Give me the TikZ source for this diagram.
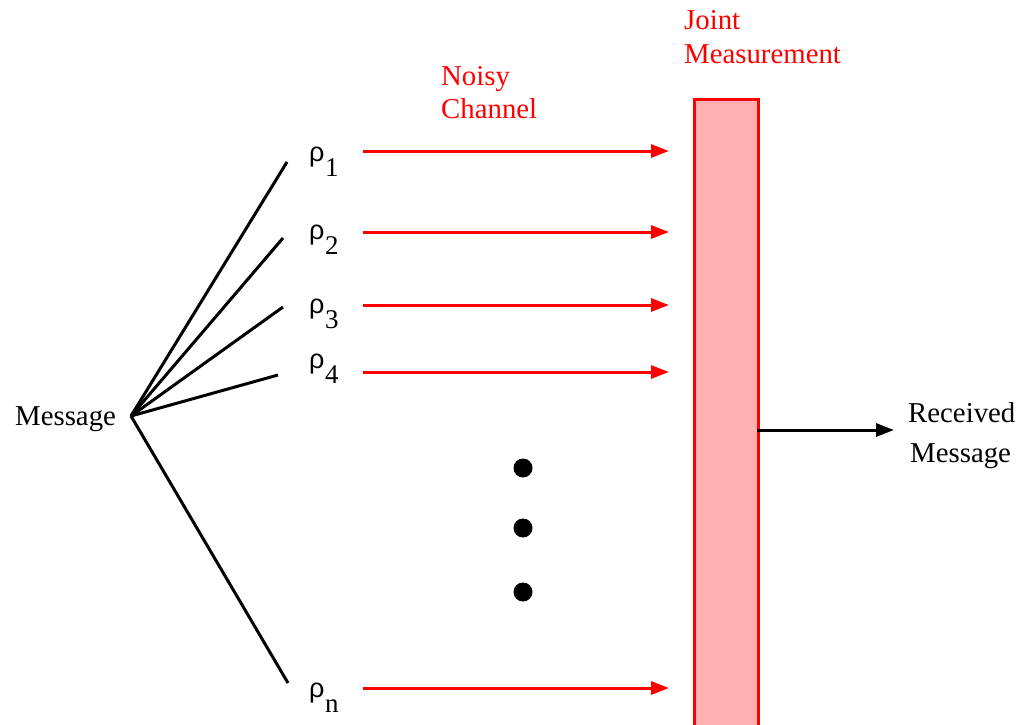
\documentclass[tikz,border=0pt]{standalone}
\usepackage{fontspec}
\setmainfont{Liberation Serif}
\newfontfamily\rhofont{Liberation Sans}
\usetikzlibrary{arrows.meta}
\definecolor{boxfill}{RGB}{255,176,176}
\begin{document}
\begin{tikzpicture}[x=1pt,y=-1pt,
  lbl/.style={inner sep=0pt,anchor=base west,font=\fontsize{28.8}{28.8}\selectfont},
  redlbl/.style={lbl,text=red},
  fan/.style={line width=3pt,black},
  chan/.style={line width=3pt,red,-{Triangle[length=18pt,width=13pt]}},
  outarr/.style={line width=3pt,black,-{Triangle[length=18pt,width=13pt]}},
  dot/.style={circle,fill=black,inner sep=0pt,minimum size=19pt},
  rholbl/.style={inner sep=0pt,anchor=base west}]
\clip (0,0) rectangle (1017,724);
\fill[white] (0,0) rectangle (1017,724);
\newcommand{\rholabel}[1]{{\rhofont\fontsize{27}{27}\selectfont ρ}\hspace{0.5pt}\raisebox{-15pt}{\fontsize{27}{27}\selectfont #1}}
% labels
\node[lbl] (msg) at (15,425) {Message};
\node[redlbl] (noisy) at (441,85) {Noisy};
\node[redlbl] (channel) at (441,118) {Channel};
\node[redlbl] (joint) at (684,29) {Joint};
\node[redlbl] (meas) at (684,63) {Measurement};
\node[lbl] (recv) at (908,422) {Received};
\node[lbl] (recvmsg) at (910,462) {Message};
% rho labels
\node[rholbl] (r1) at (309,161) {\rholabel{1}};
\node[rholbl] (r2) at (309,239) {\rholabel{2}};
\node[rholbl] (r3) at (309,313) {\rholabel{3}};
\node[rholbl] (r4) at (309,368) {\rholabel{4}};
\node[rholbl] (rn) at (309,697) {\rholabel{n}};
% fan
\coordinate (hub) at (131,416);
\coordinate (f1) at (287,162);
\coordinate (f2) at (283,238);
\coordinate (f3) at (283,307);
\coordinate (f4) at (278,375);
\coordinate (fn) at (288,683);
\foreach \e in {f1,f2,f3,f4,fn} \draw[fan] (hub) -- (\e);
% measurement box
\node[draw=red,line width=3pt,fill=boxfill,inner sep=0pt,minimum width=64pt,minimum height=640pt,anchor=north west] (box) at (693,98) {};
% channels
\foreach \n/\y in {1/151,2/232,3/305,4/372,n/688}{
  \coordinate (s\n) at (363,\y);
  \coordinate (e\n) at (669,\y);
  \draw[chan] (s\n) -- (e\n);
}
% dots
\node[dot] (d1) at (523,468) {};
\node[dot] (d2) at (523,528) {};
\node[dot] (d3) at (523,592) {};
% output
\coordinate (outs) at (757,430);
\coordinate (oute) at (894,430);
\draw[outarr] (outs) -- (oute);
\end{tikzpicture}
\end{document}
